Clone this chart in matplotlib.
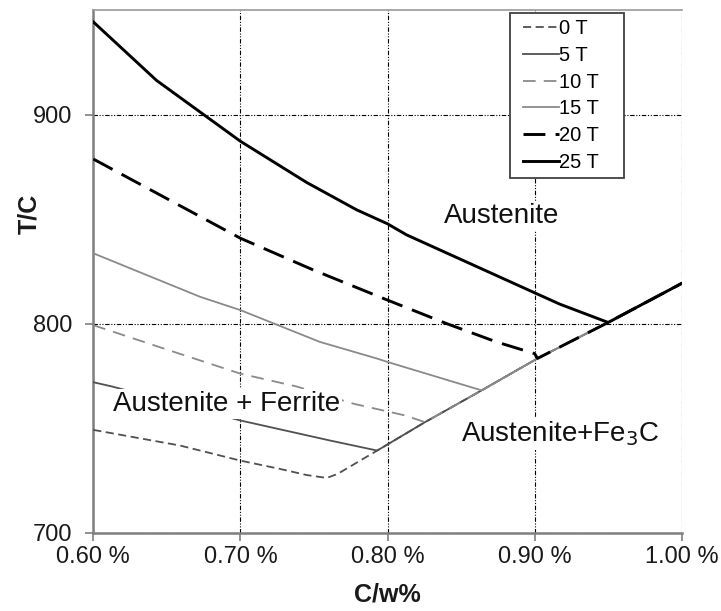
import matplotlib
matplotlib.use("Agg")
import matplotlib.pyplot as plt
from matplotlib.ticker import FuncFormatter
from matplotlib.lines import Line2D
from matplotlib.legend_handler import HandlerLine2D

plt.rcParams['font.family'] = ['Liberation Sans', 'DejaVu Sans']

# ---- data (C wt%, temperature in C) ----
labels = ["0 T", "5 T", "10 T", "15 T", "20 T", "25 T"]

x_0T = [0.600, 0.659, 0.700, 0.727, 0.745, 0.7587, 0.766]
T_0T = [749.1, 741.6, 734.4, 730.4, 727.5, 726.1, 728.0]

x_5T = [0.600, 0.6125, 0.700, 0.761, 0.793]
T_5T = [771.9, 769.9, 753.6, 744.0, 739.2]

x_10T = [0.600, 0.648, 0.700, 0.738, 0.777, 0.812, 0.8255]
T_10T = [799.2, 788.0, 776.0, 769.9, 761.6, 756.0, 752.8]

x_15T = [0.600, 0.6725, 0.700, 0.754, 0.793, 0.800, 0.864]
T_15T = [833.6, 812.8, 806.4, 791.2, 783.2, 781.6, 768.0]

x_20T = [0.600, 0.700, 0.7496, 0.800, 0.840, 0.874, 0.900]
T_20T = [878.7, 840.8, 825.6, 811.2, 800.0, 791.2, 785.6]

x_25T = [0.600, 0.643, 0.700, 0.745, 0.779, 0.800, 0.813, 0.900, 0.917, 0.950]
T_25T = [944.3, 916.3, 887.2, 867.5, 854.4, 847.7, 842.4, 814.7, 809.3, 800.5]

# shared Acm (austenite / cementite) boundary
acm_x = [0.766, 0.793, 0.8255, 0.864, 0.902, 0.950, 1.000]
acm_T = [728.0, 739.2, 752.8, 768.0, 783.3, 800.5, 819.2]

xticks = [0.60, 0.70, 0.80, 0.90, 1.00]
yticks = [700, 800, 900]

# ---- styles ----
styles = [
    dict(color='#505050', lw=1.3, ls=(0, (4.5, 2.5))),
    dict(color='#505050', lw=1.3, ls='-'),
    dict(color='#8a8a8a', lw=1.3, ls=(0, (7, 4.5))),
    dict(color='#8a8a8a', lw=1.3, ls='-'),
    dict(color='black', lw=2.1, ls=(0, (7.5, 3.5))),
    dict(color='black', lw=2.1, ls='-'),
]

fig = plt.figure(figsize=(7.21, 6.11), dpi=100)
ax = fig.add_axes([93.3 / 721, 1 - 532.5 / 611, (681.7 - 93.3) / 721, (532.5 - 10) / 611])

series = [(x_0T, T_0T), (x_5T, T_5T), (x_10T, T_10T),
          (x_15T, T_15T), (x_20T, T_20T), (x_25T, T_25T)]

for (xs, ts), lab, st in zip(series, labels, styles):
    xx = list(xs) + [a for a in acm_x if a > xs[-1] + 1e-6]
    tt = list(ts) + [b for a, b in zip(acm_x, acm_T) if a > xs[-1] + 1e-6]
    ax.plot(xx, tt, color=st['color'], lw=st['lw'], linestyle=st['ls'],
            label=lab, zorder=3, solid_joinstyle='round')

ax.set_xlim(0.60, 1.00)
ax.set_ylim(700, 950)
ax.set_xticks(xticks)
ax.set_yticks(yticks)
ax.xaxis.set_major_formatter(FuncFormatter(lambda v, p: f"{v:.2f} %"))

grid_ls = (0, (4, 1.5, 1, 1.5, 1, 1.5))
ax.grid(True, color='black', lw=0.8, linestyle=grid_ls, zorder=1)
ax.set_axisbelow(True)

for side in ['left', 'bottom']:
    ax.spines[side].set_color('#7f7f7f')
    ax.spines[side].set_linewidth(1.8)
ax.spines['top'].set_color('#9a9a9a')
ax.spines['top'].set_linewidth(1.2)
ax.spines['right'].set_visible(False)

ax.tick_params(axis='both', direction='out', length=6, width=1.2, color='#7f7f7f',
               labelsize=17, labelcolor='#1a1a1a')
ax.tick_params(axis='y', pad=9)
ax.tick_params(axis='x', pad=4)

ax.set_xlabel('C/w%', fontsize=18, fontweight='bold', color='#1a1a1a')
ax.set_ylabel('T/C', fontsize=18, fontweight='bold', color='#1a1a1a')
ax.xaxis.set_label_coords(0.5, -0.096)
ax.yaxis.set_label_coords(-0.088, 0.61)

bb = dict(facecolor='white', edgecolor='none', pad=1.5)
ax.text(0.8775, 851.5, 'Austenite', fontsize=20, ha='center', va='center',
        color='#111111', zorder=4, bbox=bb)
ax.text(0.6906, 761.3, 'Austenite + Ferrite', fontsize=20, ha='center', va='center',
        color='#111111', zorder=4, bbox=bb)
ax.text(0.9173, 747.3, 'Austenite+Fe$_3$C', fontsize=20, ha='center', va='center',
        color='#111111', zorder=4, bbox=bb)

leg = ax.legend(loc='upper left',
                bbox_to_anchor=(510 / 721, 1 - 175 / 611, 114 / 721, 161.7 / 611),
                bbox_transform=fig.transFigure, borderaxespad=0, mode='expand',
                fontsize=14.5, frameon=True, fancybox=False, framealpha=1,
                handlelength=2.15, handletextpad=0.0, labelspacing=0.38,
                borderpad=0.3,
                handler_map={Line2D: HandlerLine2D(xpad=0.33)})
leg.get_frame().set_edgecolor('#404040')
leg.get_frame().set_linewidth(1.3)
leg.set_zorder(5)

fig.savefig('out.png', dpi=100)
